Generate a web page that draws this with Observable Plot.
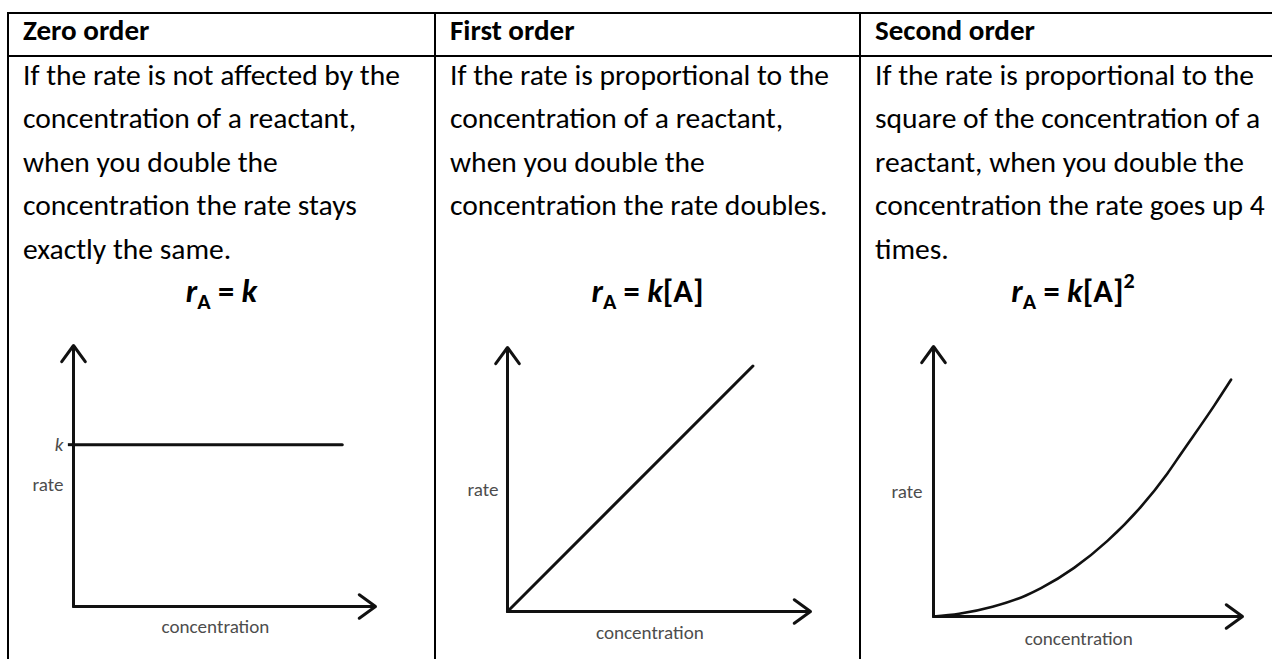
<!DOCTYPE html>
<html>
<head>
<meta charset="utf-8">
<script src="https://cdn.jsdelivr.net/npm/d3@7"></script>
<script src="https://cdn.jsdelivr.net/npm/@observablehq/plot@0.6"></script>
<style>
  html, body { margin: 0; padding: 0; background: #fff; }
  #page { position: relative; width: 1272px; height: 659px; overflow: hidden; }
  #page svg.chart { position: absolute; }
</style>
</head>
<body>
<div id="page"></div>
<script>
// ---------- content ----------
const headers = ["Zero order", "First order", "Second order"];
const descriptions = [
  ["If the rate is not affected by the", "concentration of a reactant,", "when you double the", "concentration the rate stays", "exactly the same."],
  ["If the rate is proportional to the", "concentration of a reactant,", "when you double the", "concentration the rate doubles."],
  ["If the rate is proportional to the", "square of the concentration of a", "reactant, when you double the", "concentration the rate goes up 4", "times."]
];
const equationSuffix = ["", "[A]", "[A]"];
const equationPower = ["", "", "2"];
const xLabel = "concentration";
const yLabel = "rate";
const kLabel = "k";

// ---------- values (axis length = 10) ----------
const axisMax = 10;
const zeroConc = [0, 8.9];
const zeroRate = [6.2, 6.2];
const firstConc = [0, 8.1];
const firstRate = [0, 9.3];
const secondConc = [0, 0.83, 1.91, 2.99, 3.48, 4.55, 5.63, 6.71, 7.57, 8.01, 9.09, 9.63];
const secondRate = [0, 0.10, 0.36, 0.78, 1.05, 1.80, 2.80, 4.06, 5.30, 6.03, 7.82, 8.77];

// ---------- fonts ----------
const FONT = 'Calibri, Carlito, Lato, "Open Sans", sans-serif';
const ctx = document.createElement("canvas").getContext("2d");
function fit(str, target, weight = "normal", style = "normal") {
  ctx.font = `${style} ${weight} 100px ${FONT}`;
  return 100 * target / ctx.measureText(str).width;
}
const bodySize = fit(descriptions[0][0], 377);
const headSize = fit(headers[2], 160, "bold");
const labelSize = fit(xLabel, 108);
const eqSize = bodySize * 1.1;

// ---------- table layer ----------
const W = 1272, H = 659;
const colX = [8, 435, 860];
const colCenter = [221.5, 647.5, 1073];
const page = d3.select("#page");
const svg = page.append("svg").attr("width", W).attr("height", H)
  .style("position", "absolute").style("left", 0).style("top", 0)
  .attr("font-family", FONT);

svg.append("line").attr("x1", 7).attr("x2", W).attr("y1", 13).attr("y2", 13).attr("stroke", "#000").attr("stroke-width", 2);
svg.append("line").attr("x1", 7).attr("x2", W).attr("y1", 56).attr("y2", 56).attr("stroke", "#000").attr("stroke-width", 2);
colX.forEach(x => svg.append("line").attr("x1", x).attr("x2", x).attr("y1", 12).attr("y2", H).attr("stroke", "#000").attr("stroke-width", 2));

headers.forEach((h, i) => {
  svg.append("text").attr("x", colX[i] + 15).attr("y", 40).attr("font-weight", "bold").attr("font-size", headSize).text(h);
  descriptions[i].forEach((line, j) => {
    svg.append("text").attr("x", colX[i] + 15).attr("y", 85 + j * 43.4).attr("font-size", bodySize).text(line);
  });
  const t = svg.append("text").attr("x", colCenter[i]).attr("y", 302).attr("text-anchor", "middle")
    .attr("font-size", eqSize).attr("font-weight", "bold");
  t.append("tspan").attr("font-style", "italic").text("r");
  t.append("tspan").attr("font-size", eqSize * 0.68).attr("dy", eqSize * 0.22).text("A");
  t.append("tspan").attr("dy", -eqSize * 0.22).text(" = ");
  t.append("tspan").attr("font-style", "italic").text("k");
  if (equationSuffix[i]) t.append("tspan").text(equationSuffix[i]);
  if (equationPower[i]) t.append("tspan").attr("font-size", eqSize * 0.68).attr("dy", -eqSize * 0.42).text(equationPower[i]);
});

// ---------- charts ----------
const axes = [{x1: 0, y1: 0, x2: 0, y2: axisMax}, {x1: 0, y1: 0, x2: axisMax, y2: 0}];
const INK = "#111";
function chart(cfg, marks) {
  const el = Plot.plot({
    width: cfg.w, height: cfg.h,
    marginLeft: cfg.ml, marginRight: cfg.mr, marginTop: cfg.mt, marginBottom: cfg.mb,
    x: {domain: [0, axisMax], axis: null},
    y: {domain: [0, axisMax], axis: null},
    style: {background: "transparent", overflow: "visible"},
    marks: [
      Plot.arrow(axes, {x1: "x1", y1: "y1", x2: "x2", y2: "y2", stroke: INK, strokeWidth: 3, headLength: 10, headAngle: 72}),
      Plot.text([yLabel], {x: 0, y: cfg.rateY, text: d => d, textAnchor: "end", dx: cfg.rateDx,
        fill: "#4d4d4d", fontSize: labelSize, fontFamily: FONT}),
      Plot.text([xLabel], {x: 4.7, y: 0, text: d => d, dy: cfg.concDy,
        fill: "#4d4d4d", fontSize: labelSize, fontFamily: FONT}),
      ...marks
    ]
  });
  el.classList.add("chart");
  el.style.left = cfg.left + "px";
  el.style.top = cfg.top + "px";
  page.node().appendChild(el);
}

// Zero order
chart({left: 27, top: 316, w: 386, h: 330, ml: 46, mr: 38, mt: 29, mb: 40, rateY: 4.67, rateDx: -10, concDy: 20}, [
  Plot.line(zeroConc.map((c, i) => ({c, r: zeroRate[i]})), {x: "c", y: "r", stroke: INK, strokeWidth: 3}),
  Plot.ruleY([zeroRate[0]], {x1: -0.17, x2: 0, stroke: INK, strokeWidth: 3}),
  Plot.text([kLabel], {x: 0, y: zeroRate[0], text: d => d, textAnchor: "end", dx: -10,
    fill: "#4d4d4d", fontSize: labelSize, fontStyle: "italic", fontFamily: FONT})
]);

// First order
chart({left: 445, top: 316, w: 400, h: 330, ml: 62, mr: 35, mt: 31, mb: 35, rateY: 4.6, rateDx: -9, concDy: 21}, [
  Plot.line(firstConc.map((c, i) => ({c, r: firstRate[i]})), {x: "c", y: "r", stroke: INK, strokeWidth: 3})
]);

// Second order
chart({left: 870, top: 316, w: 390, h: 330, ml: 63, mr: 18, mt: 30, mb: 30, rateY: 4.6, rateDx: -11, concDy: 22}, [
  Plot.line(secondConc.map((c, i) => ({c, r: secondRate[i]})), {x: "c", y: "r", stroke: INK, strokeWidth: 2.6, curve: "monotone-x"})
]);
</script>
</body>
</html>
